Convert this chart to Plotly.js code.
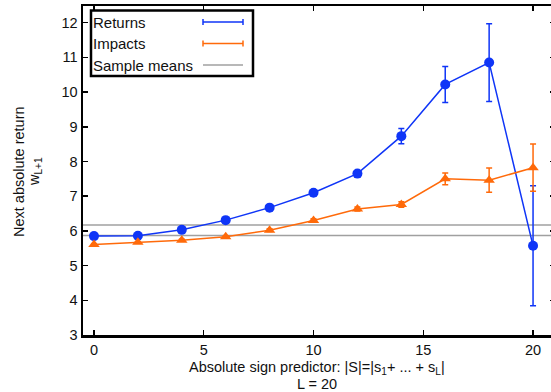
<!DOCTYPE html>
<html>
<head>
<meta charset="utf-8">
<script src="https://cdn.plot.ly/plotly-3.0.1.min.js"></script>
<style>
  html, body { margin: 0; padding: 0; overflow: hidden; background: #fff; }
  #chart { width: 560px; height: 392px; }
</style>
</head>
<body>
<div id="chart"></div>
<script>
// Absolute sign predictor |S| (L = 20)
var predictor = [0, 2, 4, 6, 8, 10, 12, 14, 16, 18, 20];

// Next absolute return, conditioned on |S|
var returnsMean  = [5.85, 5.86, 6.03, 6.31, 6.67, 7.10, 7.65, 8.73, 10.22, 10.85, 5.57];
var returnsErr   = [0.03, 0.03, 0.03, 0.04, 0.05, 0.06, 0.08, 0.22, 0.52, 1.12, 1.73];

// Next absolute impact, conditioned on |S|
var impactsMean  = [5.61, 5.67, 5.73, 5.83, 6.02, 6.30, 6.63, 6.76, 7.50, 7.46, 7.82];
var impactsErr   = [0.02, 0.02, 0.03, 0.03, 0.04, 0.05, 0.06, 0.08, 0.17, 0.35, 0.68];

// Unconditional sample means
var sampleMeans  = [6.17, 5.87];

var legendLabels = ['Returns', 'Impacts', 'Sample means'];
var xTitleLines = ['Absolute sign predictor: |S|=|s<sub>1</sub>+ ... + s<sub>L</sub>|', 'L = 20'];
var yTitleLines = ['Next absolute return', 'w<sub>L+1</sub>'];

var BLUE = '#0f35f7';
var ORANGE = '#ff6a0a';
var GREY = '#a0a0a0';

// Plot area geometry (pixels), used to place the boxed key and titles in paper units
var W = 560, H = 392;
var M = { l: 83, r: 5, t: 6, b: 57 };
var PW = W - M.l - M.r, PH = H - M.t - M.b;
function px(x) { return (x - M.l) / PW; }
function py(y) { return 1 - (y - M.t) / PH; }

var FONT = 'Liberation Sans, Arial, sans-serif';
var axisFont = { family: FONT, size: 14.5, color: '#111' };

var traces = [
  {
    x: predictor, y: returnsMean, type: 'scatter', mode: 'lines+markers',
    line: { color: BLUE, width: 1.5 },
    marker: { color: BLUE, size: 10, symbol: 'circle' },
    error_y: { type: 'data', array: returnsErr, visible: true, color: BLUE, thickness: 1.5, width: 3 },
    showlegend: false
  },
  {
    x: predictor, y: impactsMean, type: 'scatter', mode: 'lines+markers',
    line: { color: ORANGE, width: 1.5 },
    marker: { color: ORANGE, size: 10, symbol: 'triangle-up' },
    error_y: { type: 'data', array: impactsErr, visible: true, color: ORANGE, thickness: 1.5, width: 3 },
    showlegend: false
  }
];

var shapes = sampleMeans.map(function (m) {
  return { type: 'line', xref: 'paper', x0: 0, x1: 1, yref: 'y', y0: m, y1: m,
           line: { color: GREY, width: 1.5 }, layer: 'below' };
});

// Boxed key in the upper-left corner, samples on the right of each label
var keyRows = [22, 43.5, 65];
var keyColors = [BLUE, ORANGE, GREY];
var keySymbols = ['circle', 'triangle-up', null];
var annotations = [];
shapes.push({ type: 'rect', xref: 'paper', yref: 'paper',
  x0: px(91), x1: px(253), y0: py(10.5), y1: py(76),
  line: { color: '#000', width: 2.5 }, fillcolor: 'rgba(255,255,255,1)' });
keyRows.forEach(function (yy, i) {
  annotations.push({ xref: 'paper', yref: 'paper', x: px(91), y: py(yy),
    xanchor: 'left', yanchor: 'middle', showarrow: false, text: legendLabels[i],
    font: { family: FONT, size: 15, color: '#111' } });
  shapes.push({ type: 'line', xref: 'paper', yref: 'paper', x0: px(203), x1: px(243), y0: py(yy), y1: py(yy),
    line: { color: keyColors[i], width: 1.5 } });
  if (keySymbols[i]) {
    [203, 243].forEach(function (cx) {
      shapes.push({ type: 'line', xref: 'paper', yref: 'paper', x0: px(cx), x1: px(cx), y0: py(yy - 3), y1: py(yy + 3),
        line: { color: keyColors[i], width: 1.5 } });
    });
    traces.push({ x: [px(223)], y: [py(yy)], xaxis: 'x2', yaxis: 'y2', type: 'scatter', mode: 'markers',
      marker: { color: keyColors[i], size: 10, symbol: keySymbols[i] }, showlegend: false, hoverinfo: 'skip' });
  }
});

// Axis titles, one annotation per line
[368, 384].forEach(function (yy, i) {
  annotations.push({ xref: 'paper', yref: 'paper', x: px(317), y: py(yy), xanchor: 'center', yanchor: 'middle',
    showarrow: false, text: xTitleLines[i], font: axisFont });
});
[19, 35].forEach(function (xx, i) {
  annotations.push({ xref: 'paper', yref: 'paper', x: px(xx), y: py(172), xanchor: 'center', yanchor: 'middle',
    showarrow: false, text: yTitleLines[i], font: axisFont, textangle: -90 });
});

var layout = {
  width: W, height: H,
  margin: M,
  paper_bgcolor: '#fff', plot_bgcolor: '#fff',
  showlegend: false,
  font: axisFont,
  xaxis: {
    range: [-0.5, 21], tickvals: [0, 5, 10, 15, 20],
    showgrid: false, zeroline: false,
    showline: true, linecolor: '#000', linewidth: 2.5, mirror: 'ticks',
    ticks: 'inside', ticklen: 5, tickwidth: 1.5, tickcolor: '#000',
    tickfont: axisFont, ticklabelstandoff: 0
  },
  yaxis: {
    range: [3, 12.48], tickvals: [3, 4, 5, 6, 7, 8, 9, 10, 11, 12],
    showgrid: false, zeroline: false,
    showline: true, linecolor: '#000', linewidth: 2.5, mirror: 'ticks',
    ticks: 'inside', ticklen: 5, tickwidth: 1.5, tickcolor: '#000',
    tickfont: axisFont, ticklabelstandoff: 0
  },
  xaxis2: { overlaying: 'x', range: [0, 1], visible: false, fixedrange: true },
  yaxis2: { overlaying: 'y', range: [0, 1], visible: false, fixedrange: true },
  shapes: shapes,
  annotations: annotations
};

Plotly.newPlot('chart', traces, layout, { displayModeBar: false, staticPlot: true });
</script>
</body>
</html>
